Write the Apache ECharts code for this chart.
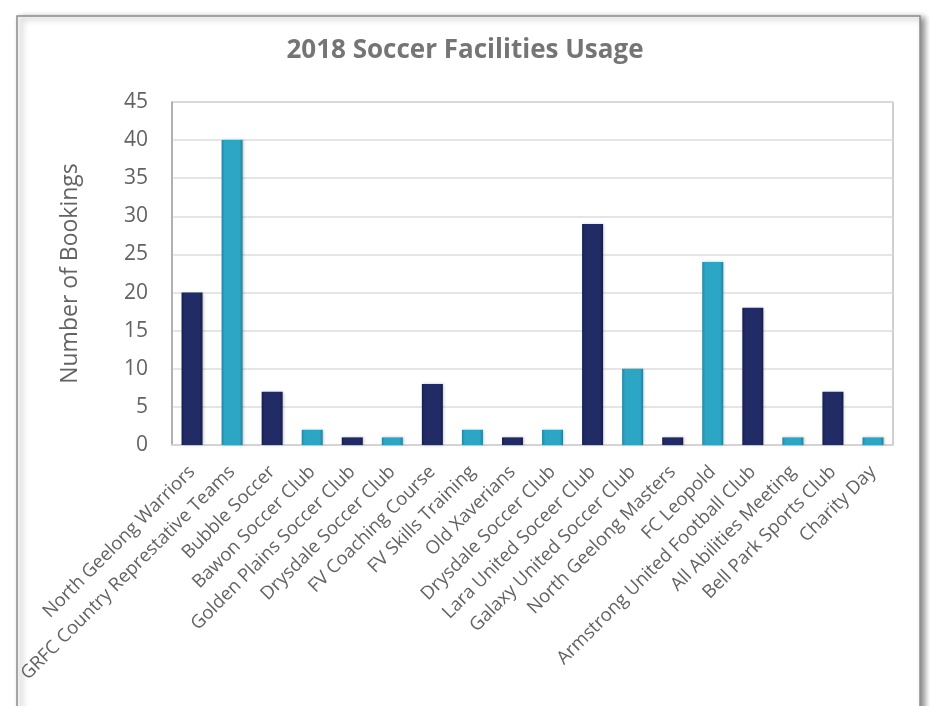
<!DOCTYPE html>
<html>
<head>
<meta charset="utf-8">
<script src="https://cdn.jsdelivr.net/npm/echarts@6/dist/echarts.min.js"></script>
<style>html,body{margin:0;padding:0;background:#fff;}#c{width:930px;height:706px;}</style>
</head>
<body>
<div id="c"></div>
<script>
const categories = [
  'North Geelong Warriors', 'GRFC Country Represtative Teams', 'Bubble Soccer',
  'Bawon Soccer Club', 'Golden Plains Soccer Club', 'Drysdale Soccer Club',
  'FV Coaching Course', 'FV Skills Training', 'Old Xaverians',
  'Drysdale Soccer Club', 'Lara United Soceer Club', 'Galaxy United Soccer Club',
  'North Geelong Masters', 'FC Leopold', 'Armstrong United Football Club',
  'All Abilities Meeting', 'Bell Park Sports Club', 'Charity Day'
];
const bookings = [20, 40, 7, 2, 1, 1, 8, 2, 1, 2, 29, 10, 1, 24, 18, 1, 7, 1];
const yTicks = [0, 45, 5];

const darkFill = new echarts.graphic.LinearGradient(0, 0, 1, 0, [
  {offset: 0, color: '#18204f'}, {offset: 0.15, color: '#212b66'},
  {offset: 0.85, color: '#212b66'}, {offset: 1, color: '#151c47'}]);
const lightFill = new echarts.graphic.LinearGradient(0, 0, 1, 0, [
  {offset: 0, color: '#2586a3'}, {offset: 0.15, color: '#2da6c6'},
  {offset: 0.85, color: '#2da6c6'}, {offset: 1, color: '#227f9b'}]);

const chart = echarts.init(document.getElementById('c'));
chart.setOption({
  animation: false,
  graphic: [{
    type: 'rect', z: -10,
    shape: {x: 17, y: 16, width: 903, height: 720},
    style: {fill: '#fff', stroke: '#8c8c8c', lineWidth: 1.5,
      shadowBlur: 6, shadowOffsetX: 4, shadowOffsetY: 2, shadowColor: 'rgba(0,0,0,0.45)'}
  }],
  title: {
    text: '2018 Soccer Facilities Usage',
    left: 'center', top: 33,
    textStyle: {fontFamily: 'Open Sans', fontWeight: 'bold', fontSize: 26, color: '#757575'}
  },
  grid: {left: 172, right: 37, top: 102, bottom: 261, show: true, borderColor: '#a0a0a0', borderWidth: 1},
  xAxis: {
    type: 'category', data: categories,
    axisLine: {lineStyle: {color: '#d4d4d4', width: 2}},
    axisTick: {show: false},
    axisLabel: {interval: 0, rotate: 45, fontFamily: 'Open Sans', fontSize: 18.5, color: '#636363', margin: 24}
  },
  yAxis: {
    type: 'value', min: yTicks[0], max: yTicks[1], interval: yTicks[2],
    name: 'Number of Bookings', nameLocation: 'middle', nameGap: 90,
    nameTextStyle: {fontFamily: 'Open Sans', fontSize: 23, color: '#636363'},
    axisLine: {show: true, lineStyle: {color: '#a6a6a6', width: 1.5}},
    axisTick: {show: false},
    axisLabel: {fontFamily: 'Open Sans', fontSize: 21, color: '#636363', margin: 24},
    splitLine: {lineStyle: {color: '#dcdcdc', width: 1.5}}
  },
  series: [{
    type: 'bar', barWidth: 21,
    data: bookings.map((v, i) => ({
      value: v,
      itemStyle: {color: i % 2 === 0 ? darkFill : lightFill,
        shadowBlur: 3, shadowOffsetX: 1, shadowColor: 'rgba(0,0,0,0.25)'}
    }))
  }]
});
</script>
</body>
</html>
